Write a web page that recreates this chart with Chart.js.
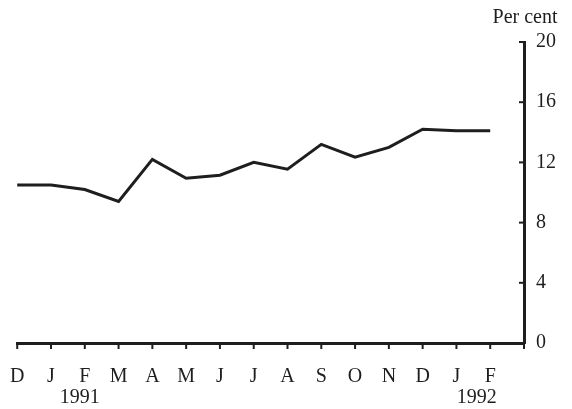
<!DOCTYPE html>
<html>
<head>
<meta charset="utf-8">
<script src="https://cdn.jsdelivr.net/npm/chart.js@4"></script>
<style>
  html, body { margin: 0; padding: 0; background: #fff; }
  #wrap { width: 572px; height: 409px; }
</style>
</head>
<body>
<div id="wrap"><canvas id="rateChart"></canvas></div>
<script>
// months Dec 1990 .. Feb 1992, last slot is the axis itself
const months = ['D', 'J', 'F', 'M', 'A', 'M', 'J', 'J', 'A', 'S', 'O', 'N', 'D', 'J', 'F', ''];
const rateValues = [10.5, 10.5, 10.2, 9.4, 12.2, 10.95, 11.15, 12.0, 11.55, 13.2, 12.35, 13.0, 14.2, 14.1, 14.1];
const yTicks = [0, 4, 8, 12, 16, 20];
const yearLabels = ['1991', '1992'];
const yearAt = [1.85, 13.6];

const ink = '#1e1e1e';
const serif = "'Liberation Serif', 'DejaVu Serif', serif";

// short tick marks, unit label and the year line under the months
const extras = {
  id: 'extras',
  afterDraw(chart) {
    const ctx = chart.ctx;
    const x = chart.scales.x;
    const y = chart.scales.y;
    const { right, bottom } = chart.chartArea;
    ctx.save();
    ctx.strokeStyle = ink;
    ctx.lineWidth = 2;
    yTicks.forEach(v => {
      const py = y.getPixelForValue(v);
      ctx.beginPath();
      ctx.moveTo(right - 5, py);
      ctx.lineTo(right, py);
      ctx.stroke();
    });
    months.forEach((m, i) => {
      const px = x.getPixelForTick(i);
      ctx.beginPath();
      ctx.moveTo(px, bottom);
      ctx.lineTo(px, bottom + 6);
      ctx.stroke();
    });
    ctx.fillStyle = ink;
    ctx.font = '20px ' + serif;
    ctx.textAlign = 'center';
    ctx.textBaseline = 'middle';
    ctx.fillText('Per cent', right + 1, 18);
    yearLabels.forEach((t, i) => {
      ctx.fillText(t, x.getPixelForValue(yearAt[i]), 398);
    });
    ctx.restore();
  }
};

new Chart(document.getElementById('rateChart'), {
  type: 'line',
  data: {
    labels: months,
    datasets: [{
      data: rateValues,
      borderColor: ink,
      borderWidth: 3,
      pointRadius: 0,
      tension: 0,
      fill: false
    }]
  },
  options: {
    responsive: true,
    maintainAspectRatio: false,
    animation: false,
    layout: { padding: { left: 0, right: 4, top: 42, bottom: 10 } },
    plugins: {
      legend: { display: false },
      tooltip: { enabled: false }
    },
    scales: {
      x: {
        type: 'category',
        offset: false,
        grid: { drawOnChartArea: false, drawTicks: true, tickLength: 12, tickColor: 'rgba(0,0,0,0)' },
        border: { display: true, color: ink, width: 3 },
        ticks: {
          color: ink,
          font: { family: serif, size: 20 },
          padding: 10,
          maxRotation: 0,
          autoSkip: false
        }
      },
      y: {
        position: 'right',
        min: 0,
        max: 20,
        grid: { drawOnChartArea: false, drawTicks: false },
        border: { display: true, color: ink, width: 3 },
        afterBuildTicks: axis => { axis.ticks = yTicks.map(v => ({ value: v })); },
        ticks: {
          color: ink,
          font: { family: serif, size: 20 },
          padding: 12,
          crossAlign: 'near'
        }
      }
    }
  },
  plugins: [extras]
});
</script>
</body>
</html>
